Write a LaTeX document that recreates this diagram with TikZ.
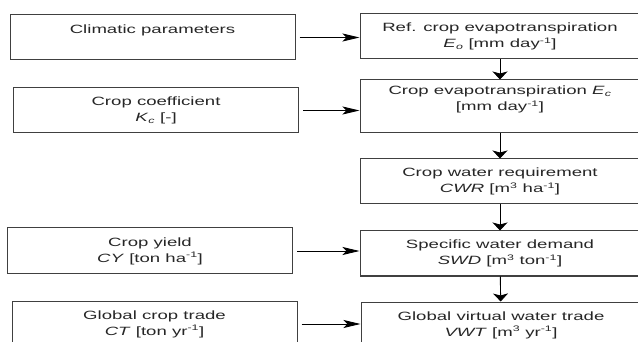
\documentclass[tikz,border=0pt]{standalone}
\usepackage{fontspec}
\setmainfont[FakeStretch=1.55]{Liberation Sans}
\usepackage{tikz}
\usetikzlibrary{arrows.meta}

\begin{document}
\begin{tikzpicture}[x=1pt,y=-1pt,
    lbox/.style={draw=black!75,line width=1pt,minimum width=285pt,minimum height=45pt,
      align=center,inner sep=0pt,font=\fontsize{12}{16}\selectfont,text=black!85},
    rbox/.style={lbox,minimum width=280pt},
    harrow/.style={line width=0.9pt,-{Stealth[length=17pt,width=8pt,inset=4pt]},shorten <=4pt},
    varrow/.style={line width=0.9pt,-{Stealth[length=8pt,width=15pt,inset=2pt]}}]
    \useasboundingbox (0,0) rectangle (638,342);
    \clip (0,0) rectangle (638,342);
    \node[lbox] (clim) at (152.5,37.5) {Climatic parameters\\ \mbox{}};
    \node[rbox] (ref) at (500,36.5) {Ref. crop evapotranspiration\\ \textit{E}\textsubscript{\textit{o}} [mm day\textsuperscript{-1}]};
    \node[lbox] (kc) at (156,110.5) {Crop coefficient\\ \textit{K}\textsubscript{\textit{c}} [-]};
    \node[rbox,minimum height=53pt] (et) at (500,106.5) {Crop evapotranspiration \textit{E}\textsubscript{\textit{c}}\\ {[}mm day\textsuperscript{-1}]\\ \mbox{}};
    \node[rbox] (cwr) at (500,181.5) {Crop water requirement\\ \textit{CWR} [m\textsuperscript{3} ha\textsuperscript{-1}]};
    \node[lbox,minimum height=46pt] (cy) at (150,251) {Crop yield\\ \textit{CY} [ton ha\textsuperscript{-1}]};
    \node[rbox] (swd) at (500,253.5) {Specific water demand\\ \textit{SWD} [m\textsuperscript{3} ton\textsuperscript{-1}]};
    \node[lbox,minimum height=46pt] (ct) at (154.5,324) {Global crop trade\\ \textit{CT} [ton yr\textsuperscript{-1}]};
    \node[rbox,minimum height=46pt] (vwt) at (501,325) {Global virtual water trade\\ \textit{VWT} [m\textsuperscript{3} yr\textsuperscript{-1}]};
    \draw[harrow] (clim.east) -- (clim.east -| ref.west);
    \draw[harrow] (kc.east) -- (kc.east -| et.west);
    \draw[harrow] (cy.east) -- (cy.east -| swd.west);
    \draw[harrow] (ct.east) -- (ct.east -| vwt.west);
    \draw[varrow] (ref) -- (et);
    \draw[varrow] (et) -- (cwr);
    \draw[varrow] (cwr) -- (swd);
    \draw[varrow] (swd) -- (vwt);
  \end{tikzpicture}
\end{document}
